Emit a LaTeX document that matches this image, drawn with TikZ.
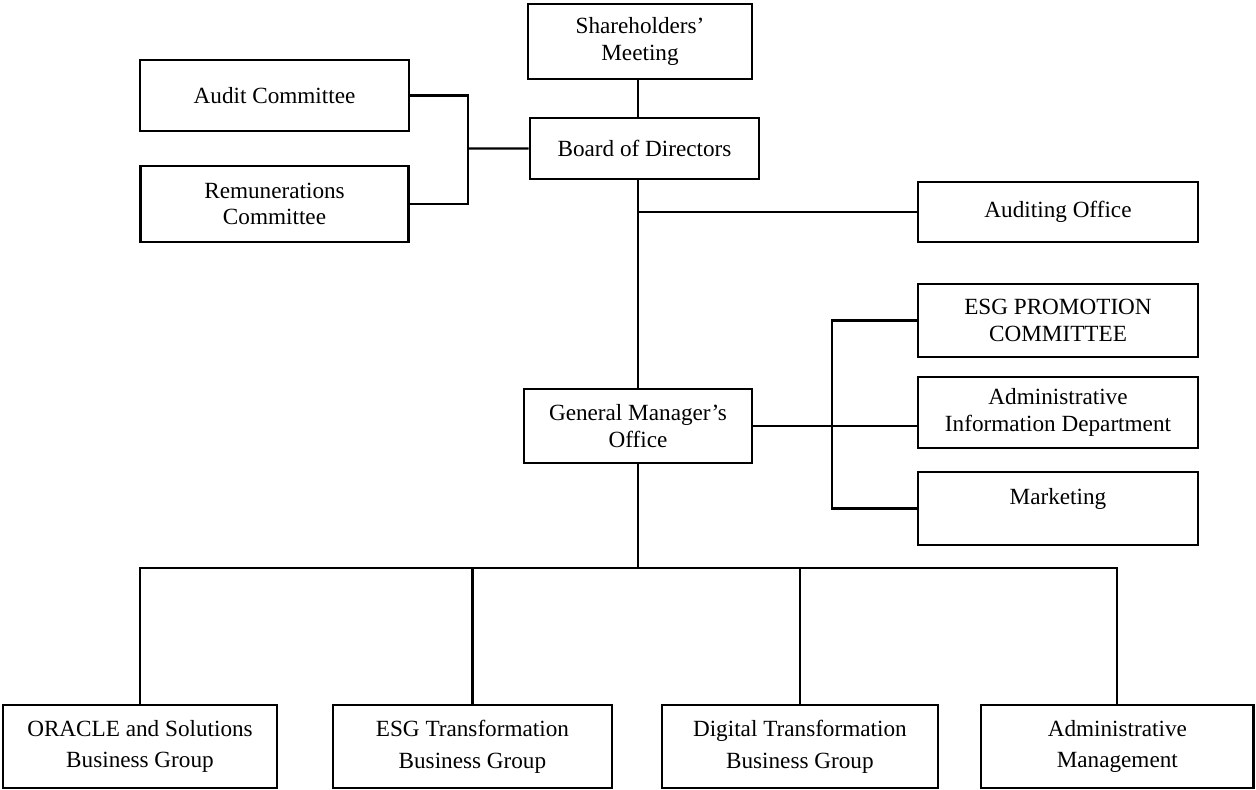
\documentclass[tikz,border=0pt]{standalone}
\usepackage{fontspec}
\setmainfont{Liberation Serif}
\usetikzlibrary{positioning, calc}
\tikzset{
  office/.style={
	draw, rectangle, % plain box round each office
	line width=1.5pt, % boxes are drawn a bit heavier than the lines
	inner sep=0pt, align=center,
	font=\fontsize{13.2}{15.2}\selectfont,
  },
  bizgroup/.style={office, minimum height=1.66cm, font=\fontsize{13.2}{18}\selectfont}, % business groups on the bottom row
  wire/.style={line width=1.3pt}, % lines between the boxes
}
\begin{document}
\begin{tikzpicture}[x=0.02cm, y=-0.02cm, node distance=2cm]
\useasboundingbox (0,0) rectangle (1256,789);

\node[office, minimum width=4.48cm, minimum height=1.5cm] (share) at (640,41.5) {Shareholders'\\Meeting};
\node[office, below of=share, node distance=2.14cm, xshift=0.09cm, minimum width=4.58cm, minimum height=1.22cm] (board) {Board of Directors};
\node[office, minimum width=5.38cm, minimum height=1.42cm] (audit) at (274.5,95.5) {Audit Committee};
\node[office, below of=audit, node distance=2.17cm, minimum width=5.36cm, minimum height=1.52cm] (remun) {Remunerations\\Committee};

\node[office, minimum width=5.6cm, minimum height=1.2cm] (audoff) at (1058,212) {Auditing Office};
\node[office, below of=audoff, node distance=2.17cm, minimum width=5.6cm, minimum height=1.46cm] (esg) {ESG PROMOTION\\COMMITTEE};
\node[office, below of=esg, node distance=1.84cm, minimum width=5.6cm, minimum height=1.42cm] (adm) {Administrative\\Information Department};
\node[office, below of=adm, node distance=1.92cm, minimum width=5.6cm, minimum height=1.46cm, text height=9pt, text depth=14pt] (mkt) {Marketing};

\node[office, minimum width=4.56cm, minimum height=1.48cm] (gm) at (638,426) {General Manager's\\Office};

\node[bizgroup, minimum width=5.48cm] (oracle) at (140,746.5) {ORACLE and Solutions\\Business Group};
\node[bizgroup, right of=oracle, node distance=6.65cm, minimum width=5.58cm] (esgt) {ESG Transformation\\Business Group};
\node[bizgroup, right of=esgt, node distance=6.55cm, minimum width=5.52cm] (digit) {Digital Transformation\\Business Group};
\node[bizgroup, right of=digit, node distance=6.35cm, minimum width=5.46cm] (admmgmt) {Administrative\\Management};

\coordinate (lj) at (468,148.5);
\coordinate (rj) at (832,426);
\coordinate (bus) at (638,568);

\draw[wire] (share.south -| gm.north) -- (board.north -| gm.north);
\draw[wire] (board.south -| gm.north) -- (gm.north);
\draw[wire] (gm.north |- audoff.west) -- (audoff.west);
\draw[wire] (audit.east) -| (lj) |- (remun.east);
\draw[wire] (lj) -- (board.west);
\draw[wire] (gm.east) -- (gm.east -| adm.west);
\draw[wire] (esg.west) -| (rj) |- (mkt.west);
\draw[wire] (gm.south) -- (bus);
\draw[wire] (oracle.north) |- (bus) -| (admmgmt.north);
\draw[wire] (esgt.north) -- (esgt.north |- bus);
\draw[wire] (digit.north) -- (digit.north |- bus);
\end{tikzpicture}
\end{document}
